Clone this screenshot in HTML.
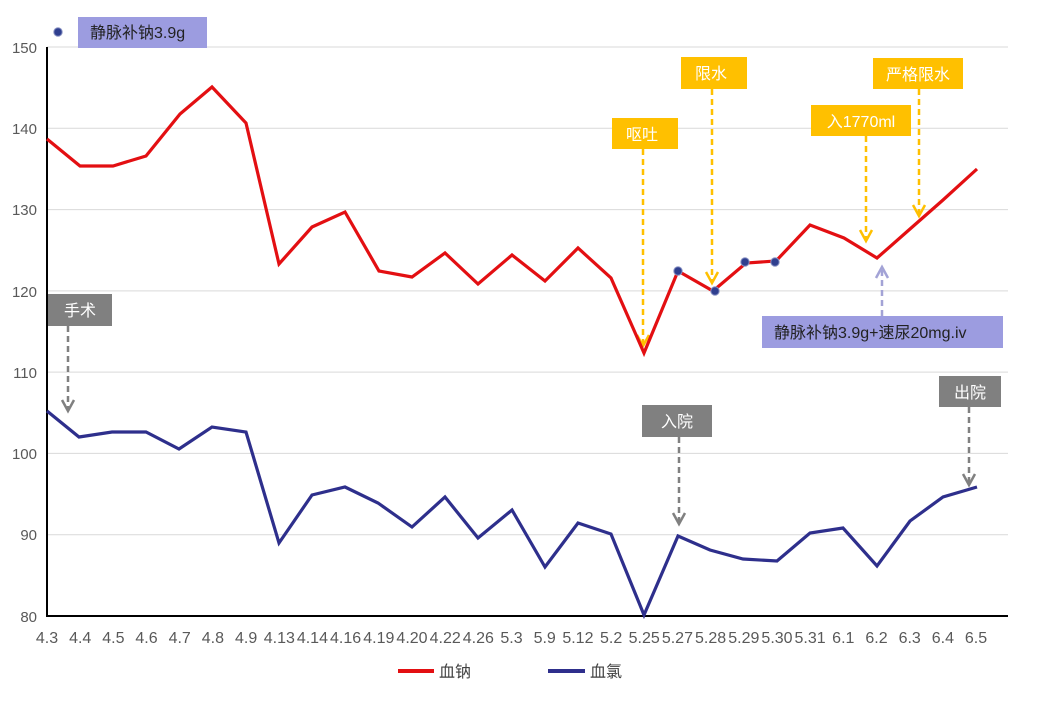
<!DOCTYPE html>
<html><head><meta charset="utf-8"><style>
html,body{margin:0;padding:0;background:#fff;}
svg{display:block;}
text{font-family:"Liberation Sans","Noto Sans CJK SC",sans-serif;}
</style></head><body>
<svg width="1042" height="702" viewBox="0 0 1042 702" xmlns="http://www.w3.org/2000/svg">
<rect width="1042" height="702" fill="#fff"/>
<!-- grid -->
<g stroke="#d9d9d9" stroke-width="1">
<line x1="47" y1="47" x2="1008" y2="47"/>
<line x1="47" y1="128.3" x2="1008" y2="128.3"/>
<line x1="47" y1="209.6" x2="1008" y2="209.6"/>
<line x1="47" y1="290.9" x2="1008" y2="290.9"/>
<line x1="47" y1="372.1" x2="1008" y2="372.1"/>
<line x1="47" y1="453.4" x2="1008" y2="453.4"/>
<line x1="47" y1="534.7" x2="1008" y2="534.7"/>
</g>
<g stroke="#000" stroke-width="2">
<line x1="47" y1="47" x2="47" y2="617"/>
<line x1="46" y1="616" x2="1008" y2="616"/>
</g>
<!-- y labels -->
<g font-size="15" fill="#595959" text-anchor="end">
<text x="37" y="53">150</text>
<text x="37" y="134">140</text>
<text x="37" y="215">130</text>
<text x="37" y="297">120</text>
<text x="37" y="378">110</text>
<text x="37" y="459">100</text>
<text x="37" y="540">90</text>
<text x="37" y="622">80</text>
</g>
<!-- x labels -->
<g font-size="16" fill="#595959" text-anchor="middle">
<text x="47" y="643">4.3</text>
<text x="80.2" y="643">4.4</text>
<text x="113.4" y="643">4.5</text>
<text x="146.5" y="643">4.6</text>
<text x="179.7" y="643">4.7</text>
<text x="212.9" y="643">4.8</text>
<text x="246.1" y="643">4.9</text>
<text x="279.3" y="643">4.13</text>
<text x="312.4" y="643">4.14</text>
<text x="345.6" y="643">4.16</text>
<text x="378.8" y="643">4.19</text>
<text x="412" y="643">4.20</text>
<text x="445.2" y="643">4.22</text>
<text x="478.3" y="643">4.26</text>
<text x="511.5" y="643">5.3</text>
<text x="544.7" y="643">5.9</text>
<text x="577.9" y="643">5.12</text>
<text x="611.1" y="643">5.2</text>
<text x="644.2" y="643">5.25</text>
<text x="677.4" y="643">5.27</text>
<text x="710.6" y="643">5.28</text>
<text x="743.8" y="643">5.29</text>
<text x="777" y="643">5.30</text>
<text x="810.1" y="643">5.31</text>
<text x="843.3" y="643">6.1</text>
<text x="876.5" y="643">6.2</text>
<text x="909.7" y="643">6.3</text>
<text x="942.9" y="643">6.4</text>
<text x="976" y="643">6.5</text>
</g>
<!-- dashed arrows -->
<g fill="none" stroke-width="2.5" stroke-dasharray="6,4">
<line x1="68" y1="326" x2="68" y2="410" stroke="#808080"/>
<line x1="679" y1="437" x2="679" y2="523" stroke="#808080"/>
<line x1="969" y1="407" x2="969" y2="484" stroke="#808080"/>
<line x1="643" y1="149" x2="643" y2="345" stroke="#ffc000"/>
<line x1="712" y1="89" x2="712" y2="282" stroke="#ffc000"/>
<line x1="919" y1="89" x2="919" y2="215" stroke="#ffc000"/>
<line x1="866" y1="136" x2="866" y2="240" stroke="#ffc000"/>
<line x1="882" y1="316" x2="882" y2="268" stroke="#a3a3d6"/>
</g>
<g fill="none" stroke-width="2.5">
<polyline points="62,400 68,411 74,400" stroke="#808080"/>
<polyline points="673,513 679,524 685,513" stroke="#808080"/>
<polyline points="963,474 969,485 975,474" stroke="#808080"/>
<polyline points="637,335 643,346 649,335" stroke="#ffc000"/>
<polyline points="706,272 712,283 718,272" stroke="#ffc000"/>
<polyline points="913,205 919,216 925,205" stroke="#ffc000"/>
<polyline points="860,230 866,241 872,230" stroke="#ffc000"/>
<polyline points="876,278 882,267 888,278" stroke="#a3a3d6"/>
</g>
<!-- series -->
<polyline fill="none" stroke="#e30f12" stroke-width="3.2" stroke-linejoin="miter" points="47,139 80,166 113,166 146,156 180,114 212,87 246,123 279,264 312,227 345,212 379,271 412,277 445,253 478,284 512,255 545,281 578,248 611,278 644,353 678,271 713,291 746,263 776,261 810,225 844,238 877,258 910,229 943,200 977,169"/>
<polyline fill="none" stroke="#2e2f8c" stroke-width="3.2" stroke-linejoin="miter" points="47,411 79,437 112,432 146,432 179,449 212,427 246,432 279,543 312,495 345,487 378,503 412,527 445,497 478,538 512,510 545,567 578,523 611,534 644,615 678,536 710,550 743,559 777,561 810,533 843,528 877,566 910,521 943,497 977,487"/>
<!-- markers -->
<g fill="#2f3f8f" stroke="#8a93c4" stroke-width="1">
<circle cx="678" cy="271" r="4.2"/>
<circle cx="715" cy="291" r="4.2"/>
<circle cx="745" cy="262" r="4.2"/>
<circle cx="775" cy="262" r="4.2"/>
<circle cx="58" cy="32" r="4.2"/>
</g>
<!-- boxes -->
<rect x="78" y="17" width="129" height="31" fill="#9c9ce0"/>
<text x="90" y="38" font-size="16" fill="#222">静脉补钠3.9g</text>
<rect x="48" y="294" width="64" height="32" fill="#808080"/>
<text x="80" y="316" font-size="16" fill="#fff" text-anchor="middle">手术</text>
<rect x="642" y="405" width="70" height="32" fill="#808080"/>
<text x="677" y="427" font-size="16" fill="#fff" text-anchor="middle">入院</text>
<rect x="939" y="376" width="62" height="31" fill="#808080"/>
<text x="970" y="398" font-size="16" fill="#fff" text-anchor="middle">出院</text>
<rect x="612" y="118" width="66" height="31" fill="#ffc000"/>
<text x="642" y="140" font-size="16" fill="#fff" text-anchor="middle">呕吐</text>
<rect x="681" y="57" width="66" height="32" fill="#ffc000"/>
<text x="711" y="79" font-size="16" fill="#fff" text-anchor="middle">限水</text>
<rect x="873" y="58" width="90" height="31" fill="#ffc000"/>
<text x="918" y="80" font-size="16" fill="#fff" text-anchor="middle">严格限水</text>
<rect x="811" y="105" width="100" height="31" fill="#ffc000"/>
<text x="861" y="127" font-size="16" fill="#fff" text-anchor="middle">入1770ml</text>
<rect x="762" y="316" width="241" height="32" fill="#9c9ce0"/>
<text x="774" y="338" font-size="16" fill="#222">静脉补钠3.9g+速尿20mg.iv</text>
<!-- legend -->
<line x1="398" y1="671" x2="434" y2="671" stroke="#e30f12" stroke-width="4"/>
<text x="439" y="677" font-size="16" fill="#404040" font-family="'Noto Serif CJK SC',serif">血钠</text>
<line x1="548" y1="671" x2="585" y2="671" stroke="#2e2f8c" stroke-width="4"/>
<text x="590" y="677" font-size="16" fill="#404040" font-family="'Noto Serif CJK SC',serif">血氯</text>
</svg>
</body></html>
